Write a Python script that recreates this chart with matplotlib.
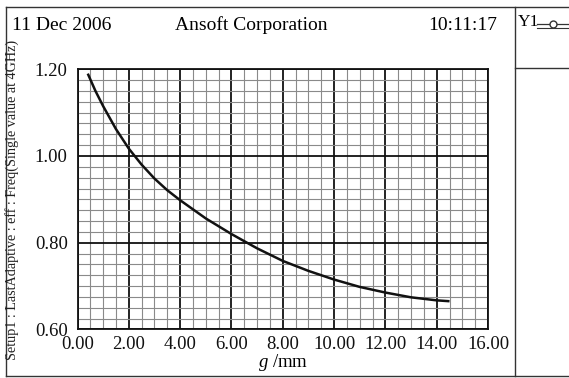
import numpy as np
import matplotlib
matplotlib.use("Agg")
from matplotlib import pyplot as plt
from matplotlib.lines import Line2D
from matplotlib.ticker import MultipleLocator, FormatStrFormatter
import matplotlib.transforms as mtransforms

plt.rcParams['font.family'] = ['Liberation Serif', 'DejaVu Serif']
plt.rcParams['mathtext.fontset'] = 'custom'
plt.rcParams['mathtext.it'] = 'Liberation Serif:italic'
plt.rcParams['mathtext.rm'] = 'Liberation Serif'

# values
g_mm = [0.4, 0.7, 1.0, 1.5, 2.0, 2.5, 3.0, 3.5, 4.0, 5.0, 6.0, 7.0,
        8.0, 9.0, 10.0, 11.0, 12.0, 13.0, 14.0, 14.5]
eff_freq = [1.190, 1.150, 1.115, 1.062, 1.017, 0.980, 0.948, 0.921, 0.898,
            0.856, 0.820, 0.787, 0.758, 0.735, 0.715, 0.698, 0.685, 0.674,
            0.667, 0.665]

W, H = 569, 378
fig = plt.figure(figsize=(W / 100, H / 100), dpi=100)

def fx(px):
    return px / W

def fy(py):
    return 1 - py / H

ax = fig.add_axes([fx(77.5), fy(329.4), fx(488 - 77.5), (329.4 - 69.3) / H])
ax.set_xlim(0, 16)
ax.set_ylim(0.6, 1.2)

# grid: minor first, then major
ax.xaxis.set_major_locator(MultipleLocator(2))
ax.xaxis.set_minor_locator(MultipleLocator(0.5))
ax.yaxis.set_major_locator(MultipleLocator(0.2))
ax.yaxis.set_minor_locator(MultipleLocator(0.025))
ax.grid(which='minor', color='#8a8a8a', linewidth=0.8)
ax.grid(which='major', color='#111111', linewidth=1.3)
ax.set_axisbelow(True)
ax.xaxis.set_major_formatter(FormatStrFormatter('%.2f'))
ax.yaxis.set_major_formatter(FormatStrFormatter('%.2f'))
ax.tick_params(which='both', length=0, labelsize=13.5, colors='#111111')
ax.tick_params(axis='x', pad=5)
ax.tick_params(axis='y', pad=7)
for s in ax.spines.values():
    s.set_linewidth(1.3)
    s.set_color('#111111')

# shift first x label right like the original
lbl0 = ax.get_xticklabels()[0]
lbl0.set_transform(lbl0.get_transform() +
                   mtransforms.ScaledTranslation(6 / 100, 0, fig.dpi_scale_trans))

ax.plot(g_mm, eff_freq, color='#111111', linewidth=1.8, solid_capstyle='butt')

ax.set_xlabel('$g$ /mm', fontsize=13.5, labelpad=-1)
fig.text(fx(12), fy(200), 'Setup1 : LastAdaptive : eff : Freq(Single value at 4GHz)',
         rotation=90, ha='center', va='center', fontsize=10.2, color='#222222')

# header
fig.text(fx(12), fy(25), '11 Dec 2006', ha='left', va='center', fontsize=14)
fig.text(fx(251), fy(25), 'Ansoft Corporation', ha='center', va='center', fontsize=14)
fig.text(fx(497), fy(25), '10:11:17', ha='right', va='center', fontsize=14)

# outer frame and legend panel
def fline(x0, y0, x1, y1, lw=1.0):
    fig.add_artist(Line2D([fx(x0), fx(x1)], [fy(y0), fy(y1)], color='#333333', linewidth=lw))

fline(6, 7, 569, 7)
fline(6, 7, 6, 376)
fline(6, 376, 569, 376)
fline(515, 7, 515, 376)
fline(515, 68, 569, 68)

fig.text(fx(518), fy(22), 'Y1', ha='left', va='center', fontsize=12.5)
fig.add_artist(Line2D([fx(537), fx(553), fx(569)], [fy(24)] * 3, color='#333333',
                      linewidth=0.9, marker='o', markevery=[1], markersize=5,
                      markerfacecolor='white'))
fline(537, 28, 569, 28, 0.8)

fig.savefig('out.png', dpi=100, facecolor='white')
